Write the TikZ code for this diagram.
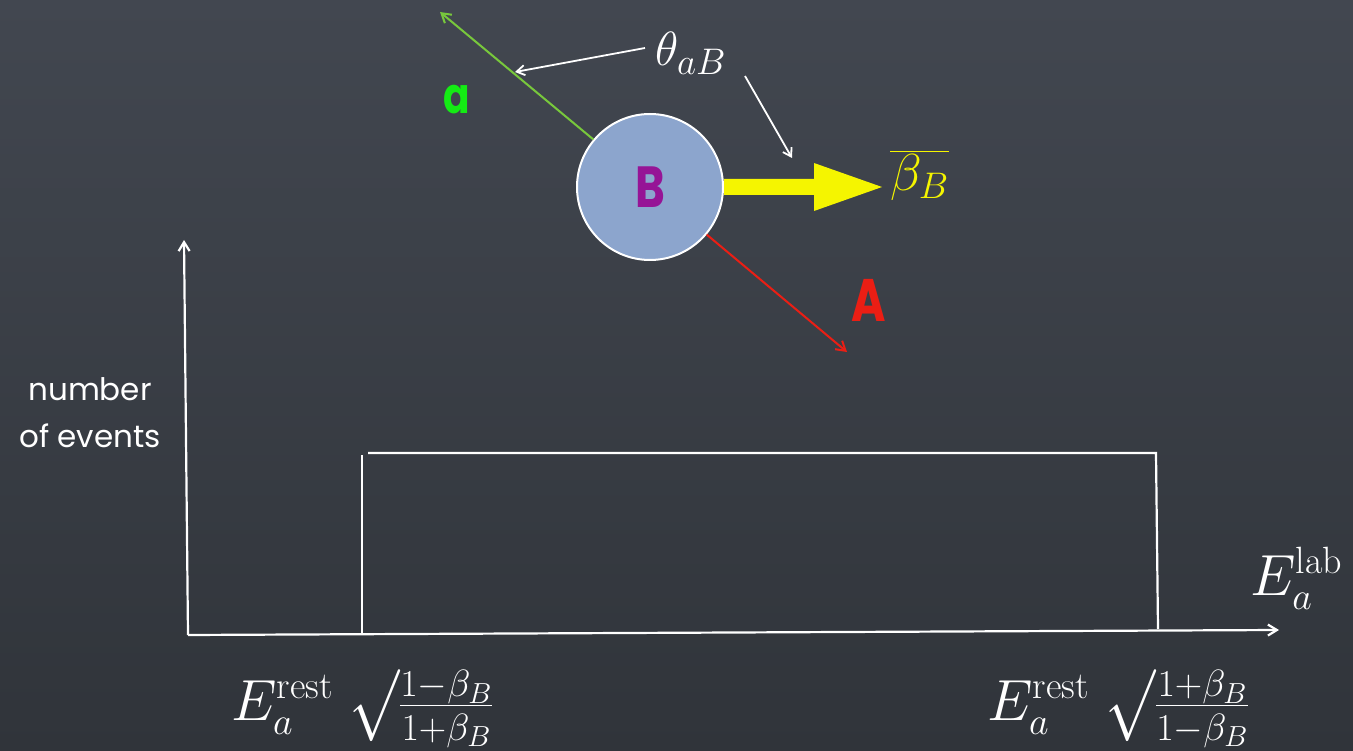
\RequirePackage{fix-cm}
\documentclass[tikz,border=0pt]{standalone}
\usepackage{amsmath}
\usepackage{exscale}
\usepackage{graphicx}
\usepackage{fontspec}
\newfontfamily\chalk{Poppins}
\newfontfamily\chalkn[FakeStretch=0.78]{Poppins}
\usetikzlibrary{arrows.meta,calc}
\DeclareMathSizes{58}{58}{38}{29}
\DeclareMathSizes{52}{52}{37}{28}
\DeclareMathSizes{48}{48}{37}{28}
\newcommand{\bigrad}{\mathord{\vcenter{\hbox{\resizebox*{50pt}{72pt}{$\surd$}}}}}
\definecolor{boardtop}{RGB}{66,71,80}
\definecolor{boardbot}{RGB}{48,52,58}
\definecolor{ballfill}{RGB}{140,165,205}
\definecolor{ygreen}{RGB}{120,200,60}
\definecolor{lgreen}{RGB}{20,235,20}
\definecolor{chalkred}{RGB}{235,30,20}
\definecolor{chalkyellow}{RGB}{245,245,0}
\definecolor{bpurple}{RGB}{150,20,150}
\tikzset{
  chalkline/.style={white, line width=2.2pt},
  axisarrow/.style={chalkline, -{Straight Barb[length=9pt,width=11pt]}},
  ptr/.style={white, line width=1.8pt, -{Straight Barb[length=8pt,width=10pt]}},
  lbl/.style={font=\chalk\fontsize{31}{47}\selectfont, text=white, align=center},
  mathlbl/.style={font=\fontsize{58}{62}\selectfont, text=white, inner sep=0pt, anchor=base west},
}
\begin{document}
\begin{tikzpicture}[x=1pt,y=-1pt]
\useasboundingbox (0,0) rectangle (1353,751);
\shade[top color=boardtop, bottom color=boardbot] (0,0) rectangle (1353,751);

% particle B
\node[circle, minimum size=146pt, fill=ballfill, draw=white, line width=2pt,
      font=\chalkn\fontsize{58}{58}\selectfont\bfseries, text=bpurple, inner sep=0pt] (B) at (650,187) {B};

% green arrow a
\coordinate (atip) at (440,12);
\draw[ygreen, line width=2pt, -{Straight Barb[length=9pt,width=11pt]}] (B.140) -- (atip);
\node[font=\chalkn\fontsize{50}{50}\selectfont\bfseries, text=lgreen] (alab) at (457,100) {a};

% red arrow A
\coordinate (Atip) at (847,352);
\draw[chalkred, line width=2pt, -{Straight Barb[length=9pt,width=11pt]}] (B.-40) -- (Atip);
\node[font=\chalkn\fontsize{60}{60}\selectfont\bfseries, text=chalkred] (Alab) at (869,300) {A};

% yellow boost arrow
\coordinate (ytip) at (882,187);
\fill[chalkyellow] ($(B.east)+(0,-8)$) -- ($(B.east)+(90,-8)$) -- ($(B.east)+(90,-24)$)
  -- (ytip) -- ($(B.east)+(90,24)$) -- ($(B.east)+(90,8)$) -- ($(B.east)+(0,8)$) -- cycle;
\node[font=\fontsize{52}{56}\selectfont, text=chalkyellow, inner sep=0pt, anchor=base west] (beta) at (890,191) {$\overline{\beta_B}$};

% angle label
\node[font=\fontsize{48}{52}\selectfont, text=white, inner sep=0pt, anchor=base west] (theta) at (655,66) {$\theta_{aB}$};
\coordinate (t1) at (515,72);
\coordinate (t2) at (792,158);
\coordinate (s1) at (645,48);
\coordinate (s2) at (745,76);
\draw[ptr] (s1) -- (t1);
\draw[ptr] (s2) -- (t2);

% axes
\coordinate (O) at (188,635);
\coordinate (ytop) at (184,240);
\coordinate (xend) at (1279,630);
\draw[axisarrow] (O) -- (ytop);
\draw[axisarrow] (O) -- (xend);

% distribution box
\coordinate (b1) at (362,634);
\coordinate (b2) at (362,455);
\coordinate (b3) at (368,453);
\coordinate (b4) at (1156,453);
\coordinate (b5) at (1158,629);
\draw[chalkline] (b1) -- (b2);
\draw[chalkline] (b3) -- (b4) -- (b5);

% labels
\node[lbl] (ylab) at (90,413) {number\\of events};
\node[mathlbl] (xlab) at (1250,595) {$E_a^{\rm lab}$};
\node[mathlbl] (lo) at (231,720) {$E_a^{\rm rest}\;\bigrad\frac{1-\beta_B}{1+\beta_B}$};
\node[mathlbl] (hi) at (987,720) {$E_a^{\rm rest}\;\bigrad\frac{1+\beta_B}{1-\beta_B}$};
\end{tikzpicture}
\end{document}
